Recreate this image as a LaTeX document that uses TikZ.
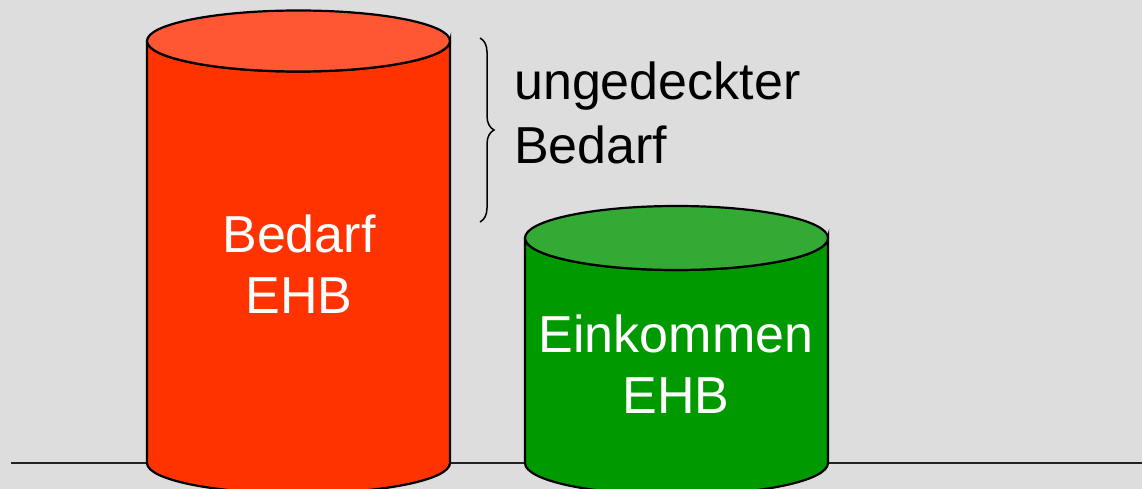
\documentclass[tikz,border=0pt]{standalone}
\usepackage{fontspec}
\setmainfont{Liberation Sans}
\usetikzlibrary{decorations.pathreplacing}
\definecolor{bggray}{HTML}{DDDDDD}
\definecolor{tankred}{HTML}{FF3300}
\definecolor{tankredtop}{HTML}{FF5733}
\definecolor{tankgreen}{HTML}{009900}
\definecolor{tankgreentop}{HTML}{33AA33}
\definecolor{groundink}{HTML}{222222}

\begin{document}
\begin{tikzpicture}[
  x=1pt, y=-1pt,
  every node/.style={align=center, inner sep=0pt},
  bigtext/.style={font=\fontsize{52}{61}\selectfont},
  tankline/.style={draw=black, line width=2.2pt},
  tanklabel/.style={bigtext, text=white, anchor=base},
  ground/.style={draw=groundink, line width=1.8pt},
  bracket/.style={draw=black, line width=1.5pt,
    decorate, decoration={brace, amplitude=14pt}}
]
\useasboundingbox[fill=bggray] (0,0) rectangle (1142,489);

% floor line behind the tanks
\coordinate (floorL) at (11,463);
\coordinate (floorR) at (1142,463);
\draw[ground] (floorL) -- (floorR);

% Bedarf tank
\filldraw[tankline, fill=tankred] (147,41) -- (147,463)
  arc (180:0:151.5 and 30.5) -- (450,41) arc (0:180:151.5 and 30.5);
\filldraw[tankline, fill=tankredtop] (298.5,41) ellipse (151.5 and 30.5);

% Einkommen tank
\filldraw[tankline, fill=tankgreen] (525,238) -- (525,463)
  arc (180:0:151.5 and 32) -- (828,238) arc (0:180:151.5 and 32);
\filldraw[tankline, fill=tankgreentop] (676.5,238) ellipse (151.5 and 32);

\node[tanklabel] (bedarf) at (299,313) {Bedarf\\EHB};
\node[tanklabel] (einkommen) at (676,413) {Einkommen\\EHB};

% gap between the two tanks
\coordinate (braceTop) at (480,38);
\coordinate (braceBot) at (480,222);
\draw[bracket] (braceTop) -- (braceBot);
\node[bigtext, font=\fontsize{52}{64}\selectfont, align=left, anchor=base west]
  (gap) at (514,164) {ungedeckter\\Bedarf};

\end{tikzpicture}
\end{document}
